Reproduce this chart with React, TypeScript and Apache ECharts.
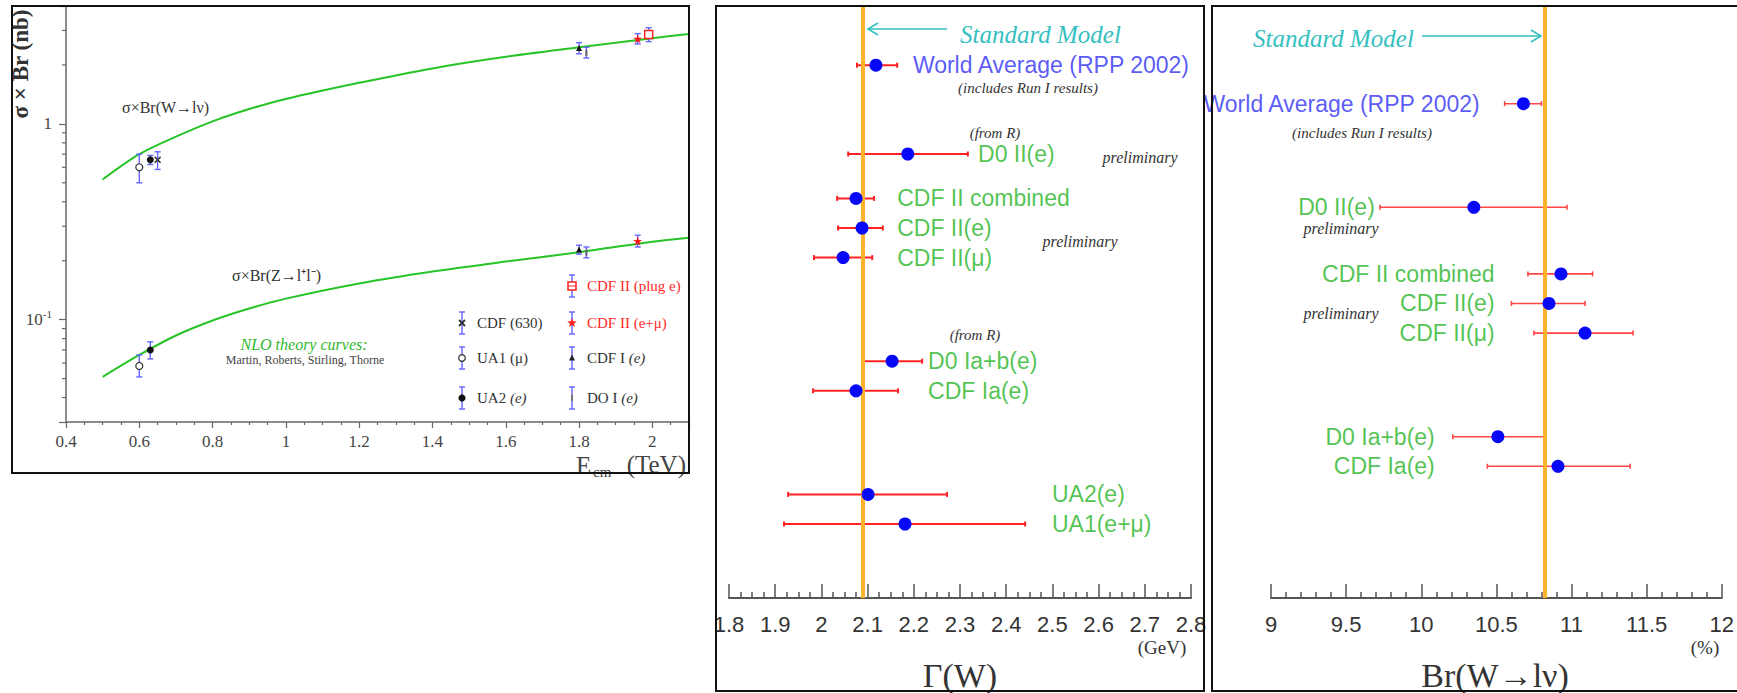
import React, { useEffect, useRef } from 'react';
import * as echarts from 'echarts';

// ---------------- Panel 1: sigma x Br vs E_cm ----------------
const theoryEnergy = [0.5, 0.6, 0.7, 0.8, 0.9, 1.0, 1.2, 1.4, 1.6, 1.8, 2.0, 2.1];
const theoryW = [0.52, 0.70, 0.86, 1.03, 1.19, 1.34, 1.62, 1.92, 2.2, 2.46, 2.74, 2.88];
const theoryZ = [0.051, 0.066, 0.083, 0.099, 0.114, 0.128, 0.153, 0.176, 0.198, 0.221, 0.250, 0.262];

// [E_cm, value, low, high]
const ua1Meas = [[0.60, 0.60, 0.50, 0.70], [0.60, 0.058, 0.051, 0.066]];
const ua2Meas = [[0.63, 0.655, 0.62, 0.69], [0.63, 0.070, 0.063, 0.077]];
const cdf630Meas = [[0.65, 0.655, 0.585, 0.72]];
const cdfIMeas = [[1.80, 2.44, 2.28, 2.60], [1.80, 0.228, 0.216, 0.240]];
const d0IMeas = [[1.82, 2.30, 2.17, 2.46], [1.82, 0.220, 0.207, 0.235]];
const cdfIIMeas = [[1.96, 2.72, 2.56, 2.89], [1.96, 0.252, 0.235, 0.270]];
const cdfPlugMeas = [[1.99, 2.86, 2.63, 3.10]];

const yMinorTicks = [0.04, 0.05, 0.06, 0.07, 0.08, 0.09, 0.2, 0.3, 0.4, 0.5, 0.6, 0.7, 0.8, 0.9, 2, 3];

// ---------------- Panel 2: Gamma(W) ----------------
const gammaNames = ['World Average (RPP 2002)', 'D0 II(e)', 'CDF II combined', 'CDF II(e)', 'CDF II(μ)', 'D0 Ia+b(e)', 'CDF Ia(e)', 'UA2(e)', 'UA1(e+μ)'];
const gammaValues = [2.118, 2.187, 2.075, 2.088, 2.047, 2.153, 2.075, 2.101, 2.181];
const gammaLow = [2.077, 2.058, 2.034, 2.036, 1.984, 2.088, 1.982, 1.928, 1.919];
const gammaHigh = [2.164, 2.317, 2.114, 2.133, 2.110, 2.218, 2.166, 2.272, 2.441];
const gammaRow = [18, 15, 13.5, 12.5, 11.5, 8, 7, 3.5, 2.5];
const gammaSM = 2.093;

// ---------------- Panel 3: Br(W -> l nu) ----------------
const brNames = ['World Average (RPP 2002)', 'D0 II(e)', 'CDF II combined', 'CDF II(e)', 'CDF II(μ)', 'D0 Ia+b(e)', 'CDF Ia(e)'];
const brValues = [10.68, 10.35, 10.93, 10.85, 11.09, 10.51, 10.91];
const brLow = [10.555, 9.725, 10.71, 10.60, 10.75, 10.21, 10.44];
const brHigh = [10.80, 10.97, 11.14, 11.09, 11.41, 10.83, 11.39];
const brRow = [16.7, 13.2, 10.95, 9.95, 8.95, 5.45, 4.45];
const brSM = 10.82;

// ---------------- layout (label anchors, in axis units) ----------------
const gammaLabelAt = [2.198, 2.339, 2.164, 2.164, 2.164, 2.231, 2.231, 2.499, 2.499];
const brLabelAt = [10.389, 9.691, 10.488, 10.488, 10.488, 10.09, 10.09];

const SERIF = '"Liberation Serif", "Times New Roman", serif';
const SANS = '"Liberation Sans", Arial, Helvetica, sans-serif';
const BLUE_TEXT = '#3030f4';
const GREEN_TEXT = '#26b426';
const POINT_BLUE = '#0808f8';
const ERR_RED = '#ff2222';
const SM_ORANGE = '#ffb22c';
const TEAL = '#36bfc0';
const CURVE_GREEN = '#27c427';
const ERR_BLUE = '#6464ff';

const STAR_PATH = 'path://M50,2L61,36L97,36L68,57L79,92L50,71L21,92L32,57L3,36L39,36Z';
const CROSS_PATH = 'path://M0,1.5L1.5,0L5,3.5L8.5,0L10,1.5L6.5,5L10,8.5L8.5,10L5,6.5L1.5,10L0,8.5L3.5,5Z';

function starPoints(cx: number, cy: number, r: number) {
  const pts: number[][] = [];
  for (let k = 0; k < 10; k++) {
    const rr = k % 2 === 0 ? r : r * 0.42;
    const a = -Math.PI / 2 + (k * Math.PI) / 5;
    pts.push([cx + rr * Math.cos(a), cy + rr * Math.sin(a)]);
  }
  return pts;
}

function hErrorBar(color: string, width: number) {
  return (params: any, api: any) => {
    const row = api.value(3);
    const a = api.coord([api.value(1), row]);
    const b = api.coord([api.value(2), row]);
    const st = { stroke: color, lineWidth: width };
    return {
      type: 'group',
      children: [
        { type: 'line', shape: { x1: a[0], y1: a[1], x2: b[0], y2: b[1] }, style: st },
        { type: 'line', shape: { x1: a[0], y1: a[1] - 2.5, x2: a[0], y2: a[1] + 2.5 }, style: st },
        { type: 'line', shape: { x1: b[0], y1: b[1] - 2.5, x2: b[0], y2: b[1] + 2.5 }, style: st },
      ],
    };
  };
}

function vErrorBar(params: any, api: any) {
  const x = api.value(0);
  const a = api.coord([x, api.value(2)]);
  const b = api.coord([x, api.value(3)]);
  const st = { stroke: ERR_BLUE, lineWidth: 1.4 };
  return {
    type: 'group',
    children: [
      { type: 'line', shape: { x1: a[0], y1: a[1], x2: b[0], y2: b[1] }, style: st },
      { type: 'line', shape: { x1: a[0] - 3, y1: a[1], x2: a[0] + 3, y2: a[1] }, style: st },
      { type: 'line', shape: { x1: b[0] - 3, y1: b[1], x2: b[0] + 3, y2: b[1] }, style: st },
    ],
  };
}

function txt(x: number, y: number, text: string, o: any) {
  return {
    type: 'text',
    x,
    y,
    rotation: o.rotation || 0,
    z: 50,
    style: {
      text,
      fontSize: o.size,
      fontFamily: o.family || SERIF,
      fontStyle: o.italic ? 'italic' : 'normal',
      fontWeight: o.bold ? 'bold' : 'normal',
      fill: o.color || '#333',
      align: o.align || 'left',
      verticalAlign: o.vAlign || 'middle',
      rich: o.rich,
    },
  };
}

const legendItems = [
  { text: 'CDF II (plug e)', kind: 'openSquare', color: '#ff2a2a', x: 572, y: 286 },
  { text: 'CDF (630)', kind: 'cross', color: '#333', x: 462, y: 323 },
  { text: 'CDF II (e+μ)', kind: 'star', color: '#ff2a2a', x: 572, y: 323 },
  { text: 'UA1 (μ)', kind: 'openCircle', color: '#333', x: 462, y: 358 },
  { text: 'CDF I {i|(e)}', kind: 'triangle', color: '#333', x: 572, y: 358 },
  { text: 'UA2 {i|(e)}', kind: 'filledCircle', color: '#333', x: 462, y: 398 },
  { text: 'DO I {i|(e)}', kind: 'bar', color: '#333', x: 572, y: 398 },
];

function legendGraphics() {
  const els: any[] = [];
  legendItems.forEach((it) => {
    const { x, y } = it;
    const st = { stroke: ERR_BLUE, lineWidth: 1.4 };
    els.push({ type: 'line', z: 50, shape: { x1: x, y1: y - 11, x2: x, y2: y + 11 }, style: st });
    els.push({ type: 'line', z: 50, shape: { x1: x - 3, y1: y - 11, x2: x + 3, y2: y - 11 }, style: st });
    els.push({ type: 'line', z: 50, shape: { x1: x - 3, y1: y + 11, x2: x + 3, y2: y + 11 }, style: st });
    const red = '#ff2020';
    switch (it.kind) {
      case 'openSquare':
        els.push({ type: 'rect', z: 51, shape: { x: x - 4, y: y - 4, width: 8, height: 8 }, style: { fill: '#fff', stroke: red, lineWidth: 1.5 } });
        els.push({ type: 'line', z: 52, shape: { x1: x - 4, y1: y, x2: x + 4, y2: y }, style: { stroke: red, lineWidth: 1 } });
        break;
      case 'cross':
        els.push({ type: 'line', z: 51, shape: { x1: x - 3, y1: y - 3, x2: x + 3, y2: y + 3 }, style: { stroke: '#333', lineWidth: 1.8 } });
        els.push({ type: 'line', z: 51, shape: { x1: x - 3, y1: y + 3, x2: x + 3, y2: y - 3 }, style: { stroke: '#333', lineWidth: 1.8 } });
        break;
      case 'star':
        els.push({ type: 'polygon', z: 51, shape: { points: starPoints(x, y, 5) }, style: { fill: red } });
        break;
      case 'openCircle':
        els.push({ type: 'circle', z: 51, shape: { cx: x, cy: y, r: 3.3 }, style: { fill: '#fff', stroke: '#333', lineWidth: 1.2 } });
        break;
      case 'triangle':
        els.push({ type: 'polygon', z: 51, shape: { points: [[x, y - 3.5], [x + 3, y + 2.5], [x - 3, y + 2.5]] }, style: { fill: '#222' } });
        break;
      case 'filledCircle':
        els.push({ type: 'circle', z: 51, shape: { cx: x, cy: y, r: 3.6 }, style: { fill: '#111' } });
        break;
      case 'bar':
        els.push({ type: 'rect', z: 51, shape: { x: x - 1, y: y - 3, width: 2, height: 6 }, style: { fill: '#777' } });
        break;
    }
    els.push(
      txt(x + 15, y, it.text, {
        size: 15,
        color: it.color,
        rich: { i: { fontSize: 15, fontFamily: SERIF, fontStyle: 'italic', fill: it.color } },
      })
    );
  });
  return els;
}

function buildOption() {
  const vErrData = [ua1Meas, ua2Meas, cdf630Meas, cdfIMeas, d0IMeas, cdfIIMeas, cdfPlugMeas].flat();

  const markerDefs: any[] = [
    { data: ua1Meas, symbol: 'circle', size: 7, itemStyle: { color: '#fff', borderColor: '#333', borderWidth: 1.2 } },
    { data: ua2Meas, symbol: 'circle', size: 7, itemStyle: { color: '#111' } },
    { data: cdf630Meas, symbol: CROSS_PATH, size: 7, itemStyle: { color: '#333' } },
    { data: cdfIMeas, symbol: 'triangle', size: 6, itemStyle: { color: '#111' } },
    { data: d0IMeas, symbol: 'rect', size: [2, 6], itemStyle: { color: '#666' } },
    { data: cdfIIMeas, symbol: STAR_PATH, size: 9, itemStyle: { color: '#ff1818' } },
    { data: cdfPlugMeas, symbol: 'rect', size: 8, itemStyle: { color: '#fff', borderColor: '#ff2020', borderWidth: 1.5 } },
  ];

  const markerSeries = markerDefs.map((m) => ({
    type: 'scatter',
    xAxisIndex: 0,
    yAxisIndex: 0,
    symbol: m.symbol,
    symbolSize: m.size,
    itemStyle: { ...m.itemStyle, opacity: 1 },
    data: m.data.map((d: number[]) => [d[0], d[1]]),
    z: 5,
    silent: true,
  }));

  const labelBase = { show: true, distance: 0, formatter: '{b}', fontFamily: SANS, fontSize: 23 };

  const graphics: any[] = [
    // frames
    { type: 'rect', z: 100, shape: { x: 12, y: 6, width: 677, height: 467 }, style: { fill: 'none', stroke: '#111', lineWidth: 2 } },
    { type: 'rect', z: 100, shape: { x: 716, y: 6, width: 488, height: 685 }, style: { fill: 'none', stroke: '#111', lineWidth: 2 } },
    { type: 'rect', z: 100, shape: { x: 1212, y: 6, width: 540, height: 685 }, style: { fill: 'none', stroke: '#111', lineWidth: 2 } },

    // panel 1 texts
    txt(20, 64, 'σ × Br (nb)', { size: 23, bold: true, color: '#333', align: 'center', rotation: Math.PI / 2 }),
    txt(122, 107, 'σ×Br(W→lν)', { size: 16, color: '#333' }),
    txt(232, 275, 'σ×Br(Z→l⁺l⁻)', { size: 16, color: '#333' }),
    txt(304, 344, 'NLO theory curves:', { size: 16, italic: true, color: '#2fb82f', align: 'center' }),
    txt(305, 360, 'Martin, Roberts, Stirling, Thorne', { size: 12, color: '#444', align: 'center' }),
    txt(576, 465, 'E', { size: 25, color: '#444' }),
    txt(593, 472, 'cm', { size: 15, color: '#444' }),
    txt(686, 464, '(TeV)', { size: 25, color: '#444', align: 'right' }),
    ...legendGraphics(),

    // panel 2 texts
    txt(960, 34, 'Standard Model', { size: 25, italic: true, color: TEAL }),
    { type: 'line', z: 50, shape: { x1: 947, y1: 29, x2: 868, y2: 29 }, style: { stroke: TEAL, lineWidth: 1.6 } },
    { type: 'polyline', z: 50, shape: { points: [[878, 23], [868, 29], [878, 35]] }, style: { stroke: TEAL, lineWidth: 1.6, fill: 'none' } },
    txt(1028, 88, '(includes Run I results)', { size: 15, italic: true, color: '#333', align: 'center' }),
    txt(995, 133, '(from R)', { size: 15, italic: true, color: '#333', align: 'center' }),
    txt(1140, 157, 'preliminary', { size: 16, italic: true, color: '#333', align: 'center' }),
    txt(1080, 241, 'preliminary', { size: 16, italic: true, color: '#333', align: 'center' }),
    txt(975, 335, '(from R)', { size: 15, italic: true, color: '#333', align: 'center' }),
    txt(1162, 647, '(GeV)', { size: 19, color: '#333', align: 'center' }),
    txt(960, 675, 'Γ(W)', { size: 34, color: '#333', align: 'center' }),

    // panel 3 texts
    txt(1253, 38, 'Standard Model', { size: 25, italic: true, color: TEAL }),
    { type: 'line', z: 50, shape: { x1: 1422, y1: 36, x2: 1541, y2: 36 }, style: { stroke: TEAL, lineWidth: 1.6 } },
    { type: 'polyline', z: 50, shape: { points: [[1531, 30], [1541, 36], [1531, 42]] }, style: { stroke: TEAL, lineWidth: 1.6, fill: 'none' } },
    txt(1362, 133, '(includes Run I results)', { size: 15, italic: true, color: '#333', align: 'center' }),
    txt(1341, 228, 'preliminary', { size: 16, italic: true, color: '#333', align: 'center' }),
    txt(1341, 313, 'preliminary', { size: 16, italic: true, color: '#333', align: 'center' }),
    txt(1705, 647, '(%)', { size: 19, color: '#333', align: 'center' }),
    txt(1495, 675, 'Br(W→lν)', { size: 34, color: '#333', align: 'center' }),
  ];

  const bottomAxis = (idx: number, min: number, max: number, interval: number, minorSplit: number) => ({
    gridIndex: idx,
    type: 'value',
    min,
    max,
    interval,
    axisLine: { onZero: false, lineStyle: { color: '#555', width: 2 } },
    axisTick: { inside: true, length: 14, lineStyle: { color: '#555', width: 1.5 } },
    minorTick: { show: true, splitNumber: minorSplit, length: 6, lineStyle: { color: '#555', width: 1.5 } },
    splitLine: { show: false },
    minorSplitLine: { show: false },
    axisLabel: { fontFamily: SANS, fontSize: 22, color: '#333', margin: 15, showMinLabel: true, showMaxLabel: true },
  });

  return {
    animation: false,
    backgroundColor: '#fff',
    grid: [
      { left: 66, right: 1737 - 689, top: 6, bottom: 693 - 422 },
      { left: 729, right: 1737 - 1191, top: 6, bottom: 693 - 598 },
      { left: 1271, right: 1737 - 1722, top: 6, bottom: 693 - 598 },
    ],
    xAxis: [
      {
        gridIndex: 0,
        type: 'value',
        min: 0.4,
        max: 2.1,
        interval: 0.2,
        axisLine: { onZero: false, lineStyle: { color: '#666', width: 1.5 } },
        axisTick: { length: 6, lineStyle: { color: '#666', width: 1.2 } },
        minorTick: { show: true, splitNumber: 4, length: 3, lineStyle: { color: '#666', width: 1.2 } },
        splitLine: { show: false },
        axisLabel: {
          fontFamily: SERIF,
          fontSize: 17,
          color: '#444',
          margin: 11,
          formatter: (v: number) => (v > 2.05 ? '' : String(+v.toFixed(1))),
        },
      },
      bottomAxis(1, 1.8, 2.8, 0.1, 4),
      bottomAxis(2, 9, 12, 0.5, 5),
    ],
    yAxis: [
      {
        gridIndex: 0,
        type: 'log',
        logBase: 10,
        min: 0.03,
        max: 4,
        axisLine: { show: true, onZero: false, lineStyle: { color: '#666', width: 1.5 } },
        axisTick: { show: true, length: 7, lineStyle: { color: '#666', width: 1.2 } },
        splitLine: { show: false },
        axisLabel: {
          fontFamily: SERIF,
          fontSize: 17,
          color: '#444',
          margin: 14,
          formatter: (v: number) => (Math.abs(v - 1) < 1e-6 ? '1' : Math.abs(v - 0.1) < 1e-6 ? '10{sup|-1}' : ''),
          rich: { sup: { fontSize: 11, fontFamily: SERIF, color: '#444', padding: [0, 0, 12, 0] } },
        },
      },
      { gridIndex: 1, type: 'value', min: 0, max: 20, show: false, splitLine: { show: false } },
      { gridIndex: 2, type: 'value', min: 0, max: 20, show: false, splitLine: { show: false } },
    ],
    series: [
      // ---- panel 1
      {
        type: 'line',
        xAxisIndex: 0,
        yAxisIndex: 0,
        smooth: 0.3,
        symbol: 'none',
        lineStyle: { color: CURVE_GREEN, width: 2 },
        data: theoryEnergy.map((e, i) => [e, theoryW[i]]),
        z: 2,
        silent: true,
      },
      {
        type: 'line',
        xAxisIndex: 0,
        yAxisIndex: 0,
        smooth: 0.3,
        symbol: 'none',
        lineStyle: { color: CURVE_GREEN, width: 2 },
        data: theoryEnergy.map((e, i) => [e, theoryZ[i]]),
        z: 2,
        silent: true,
      },
      {
        type: 'custom',
        xAxisIndex: 0,
        yAxisIndex: 0,
        renderItem: vErrorBar,
        data: vErrData,
        z: 3,
        silent: true,
      },
      ...markerSeries,
      {
        type: 'custom',
        xAxisIndex: 0,
        yAxisIndex: 0,
        silent: true,
        data: yMinorTicks.map((v) => [0.4, v]),
        renderItem: (params: any, api: any) => {
          const p = api.coord([api.value(0), api.value(1)]);
          return { type: 'line', shape: { x1: p[0] - 4, y1: p[1], x2: p[0], y2: p[1] }, style: { stroke: '#666', lineWidth: 1.2 } };
        },
      },
      // ---- panel 2
      {
        type: 'custom',
        xAxisIndex: 1,
        yAxisIndex: 1,
        renderItem: hErrorBar(ERR_RED, 2),
        data: gammaValues.map((v, i) => [v, gammaLow[i], gammaHigh[i], gammaRow[i]]),
        z: 2,
        silent: true,
      },
      {
        type: 'scatter',
        xAxisIndex: 1,
        yAxisIndex: 1,
        symbolSize: 13,
        itemStyle: { color: POINT_BLUE, opacity: 1 },
        data: gammaValues.map((v, i) => [v, gammaRow[i]]),
        z: 4,
        silent: true,
        markLine: {
          silent: true,
          z: 3,
          symbol: ['none', 'none'],
          label: { show: false },
          lineStyle: { color: SM_ORANGE, width: 4, type: 'solid' },
          data: [{ xAxis: gammaSM }],
        },
      },
      {
        type: 'scatter',
        xAxisIndex: 1,
        yAxisIndex: 1,
        symbolSize: 0,
        silent: true,
        z: 6,
        label: { ...labelBase, position: 'right' },
        data: gammaNames.map((n, i) => ({
          name: n,
          value: [gammaLabelAt[i], gammaRow[i]],
          label: { color: i === 0 ? BLUE_TEXT : GREEN_TEXT },
        })),
      },
      // ---- panel 3
      {
        type: 'custom',
        xAxisIndex: 2,
        yAxisIndex: 2,
        renderItem: hErrorBar('#ff4646', 1.6),
        data: brValues.map((v, i) => [v, brLow[i], brHigh[i], brRow[i]]),
        z: 2,
        silent: true,
      },
      {
        type: 'scatter',
        xAxisIndex: 2,
        yAxisIndex: 2,
        symbolSize: 13,
        itemStyle: { color: POINT_BLUE, opacity: 1 },
        data: brValues.map((v, i) => [v, brRow[i]]),
        z: 4,
        silent: true,
        markLine: {
          silent: true,
          z: 3,
          symbol: ['none', 'none'],
          label: { show: false },
          lineStyle: { color: SM_ORANGE, width: 4, type: 'solid' },
          data: [{ xAxis: brSM }],
        },
      },
      {
        type: 'scatter',
        xAxisIndex: 2,
        yAxisIndex: 2,
        symbolSize: 0,
        silent: true,
        z: 6,
        label: { ...labelBase, position: 'left' },
        data: brNames.map((n, i) => ({
          name: n,
          value: [brLabelAt[i], brRow[i]],
          label: { color: i === 0 ? BLUE_TEXT : GREEN_TEXT },
        })),
      },
    ],
    graphic: graphics,
  };
}

export default function App() {
  const ref = useRef<HTMLDivElement>(null);
  useEffect(() => {
    if (!ref.current) return;
    const chart = echarts.init(ref.current, null, { renderer: 'svg' });
    chart.setOption(buildOption() as any);
    return () => chart.dispose();
  }, []);
  return (
    <div
      ref={ref}
      style={{ position: 'fixed', left: 0, top: 0, width: 1737, height: 693, background: '#fff' }}
    />
  );
}
